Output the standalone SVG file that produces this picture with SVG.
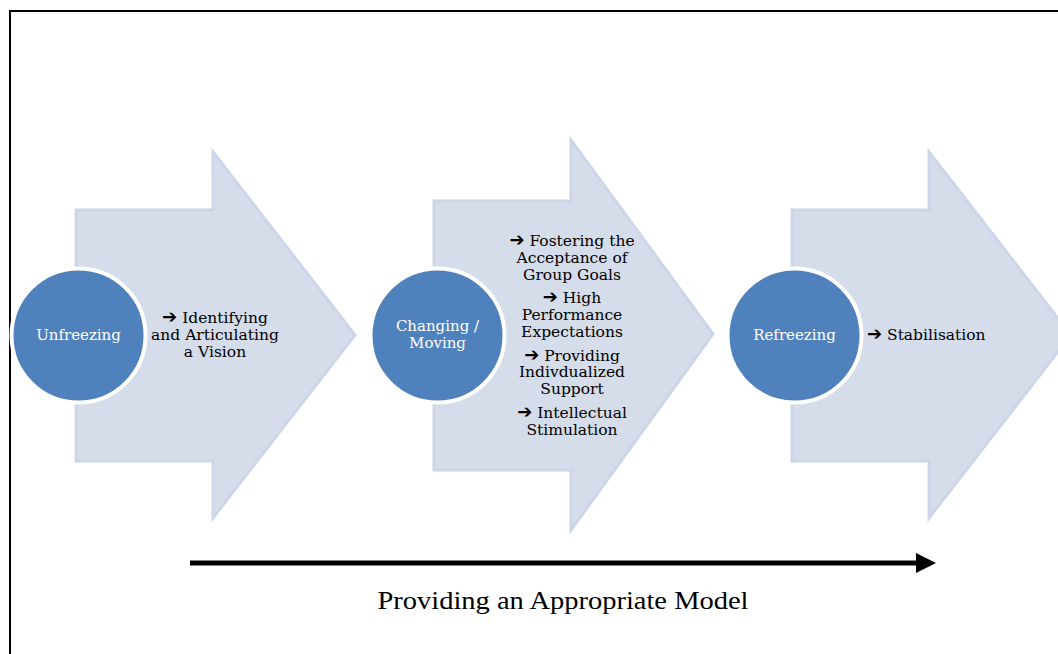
<svg xmlns="http://www.w3.org/2000/svg" width="1058" height="654" viewBox="0 0 1058 654">
<defs>
<style>
.arr{fill:#d5dcea;stroke:#cdd6e8;stroke-width:3}
.circ{fill:#4f81bd;stroke:#ffffff;stroke-width:4}
.ct{font-family:"DejaVu Serif","Liberation Serif",serif;font-size:15px;fill:#ffffff;text-anchor:middle}
.st{font-family:"DejaVu Serif","Liberation Serif",serif;font-size:15.5px;fill:#000000;text-anchor:middle}
.sym{font-family:"DejaVu Sans",sans-serif;font-weight:bold;font-size:18px}
.bt{font-family:"Liberation Serif","DejaVu Serif",serif;font-size:25px;fill:#000000;text-anchor:middle}
</style>
<marker id="ah" markerWidth="4" markerHeight="4" refX="1" refY="2" orient="auto" markerUnits="strokeWidth">
<path d="M0,0 L4,2 L0,4 Z" fill="#000"/>
</marker>
</defs>
<rect x="0" y="0" width="1058" height="654" fill="#ffffff"/>
<path d="M10,660 L10,11 L1070,11" fill="none" stroke="#000" stroke-width="2"/>
<g id="node-unfreezing">
<path class="arr" d="M76,210 L213,210 L213,152 L355,335 L213,518 L213,461 L76,461 Z"/>
<circle class="circ" cx="78.5" cy="335.5" r="67"/>
<text class="ct" x="78.5" y="340">Unfreezing</text>
<text class="st" x="215" y="323"><tspan class="sym">➔</tspan> Identifying</text>
<text class="st" x="215" y="340">and Articulating</text>
<text class="st" x="215" y="357">a Vision</text>
</g>
<g id="node-changing">
<path class="arr" d="M434,201 L571,201 L571,140 L713,334 L571,530 L571,470 L434,470 Z"/>
<circle class="circ" cx="437.5" cy="335.5" r="67"/>
<text class="ct" x="437.5" y="331">Changing /</text>
<text class="ct" x="437.5" y="348">Moving</text>
<text class="st" x="572" y="246"><tspan class="sym">➔</tspan> Fostering the</text>
<text class="st" x="572" y="263">Acceptance of</text>
<text class="st" x="572" y="280">Group Goals</text>
<text class="st" x="572" y="303"><tspan class="sym">➔</tspan> High</text>
<text class="st" x="572" y="320">Performance</text>
<text class="st" x="572" y="337">Expectations</text>
<text class="st" x="572" y="361"><tspan class="sym">➔</tspan> Providing</text>
<text class="st" x="572" y="377">Indivdualized</text>
<text class="st" x="572" y="394">Support</text>
<text class="st" x="572" y="418"><tspan class="sym">➔</tspan> Intellectual</text>
<text class="st" x="572" y="435">Stimulation</text>
</g>
<g id="node-refreezing">
<path class="arr" d="M792,210 L929,210 L929,152 L1071,335 L929,518 L929,461 L792,461 Z"/>
<circle class="circ" cx="794.5" cy="335.5" r="67"/>
<text class="ct" x="794.5" y="340">Refreezing</text>
<text class="st" x="867" y="340" style="text-anchor:start"><tspan class="sym">➔</tspan> Stabilisation</text>
</g>
<g id="connectors">
<line x1="190" y1="563" x2="921" y2="563" stroke="#000" stroke-width="5" marker-end="url(#ah)"/>
</g>
<text class="bt" x="563" y="609" textLength="371" lengthAdjust="spacingAndGlyphs">Providing an Appropriate Model</text>
</svg>
